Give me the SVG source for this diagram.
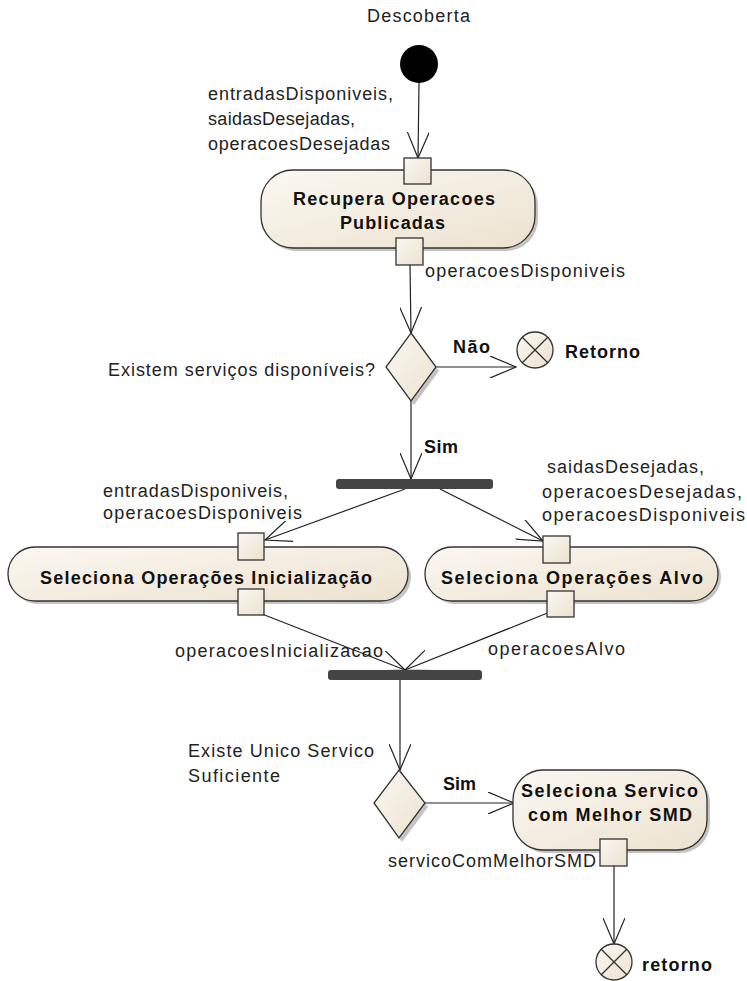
<svg xmlns="http://www.w3.org/2000/svg" width="747" height="981" viewBox="0 0 747 981">
<style>
.lbl{font-family:"Liberation Sans",Arial,sans-serif;font-size:18px;fill:#222}
.bold{font-family:"Liberation Sans",Arial,sans-serif;font-size:18px;font-weight:bold;fill:#111}
.node{fill:url(#g);stroke:#333;stroke-width:1.3}
.shadow{fill:#c4c4c4}
.pin{fill:url(#g);stroke:#333;stroke-width:1.3}
.edge{stroke:#222;stroke-width:1.2;fill:none;marker-end:url(#arr)}
.bar{fill:#444}
</style>
<defs>
<linearGradient id="g" x1="0" y1="0" x2="1" y2="1">
<stop offset="0" stop-color="#fbf8f2"/>
<stop offset="1" stop-color="#ece2cf"/>
</linearGradient>
<marker id="arr" markerUnits="userSpaceOnUse" viewBox="0 0 27 22" markerWidth="27" markerHeight="22" refX="26" refY="11" orient="auto">
<path d="M0,0 L26,11 L0,22" fill="none" stroke="#222" stroke-width="1.2"/>
</marker>
</defs>

<g id="connectors">
<line class="edge" x1="419" y1="83" x2="418" y2="158"/>
<line class="edge" x1="410" y1="265" x2="411" y2="333"/>
<line class="edge" x1="436" y1="367" x2="516" y2="367"/>
<line class="edge" x1="411" y1="401" x2="411" y2="479"/>
<line class="edge" x1="405" y1="489" x2="265" y2="540"/>
<line class="edge" x1="440" y1="489" x2="543" y2="541"/>
<line class="edge" x1="262" y1="614" x2="405" y2="670"/>
<line class="edge" x1="550" y1="612" x2="405" y2="670"/>
<line class="edge" x1="400" y1="680" x2="400" y2="770"/>
<line class="edge" x1="425" y1="803" x2="514" y2="803"/>
<line class="edge" x1="614" y1="866" x2="614" y2="944"/>
</g>

<g id="title">
<text class="lbl" x="367" y="22" textLength="103">Descoberta</text>
</g>

<g id="initial">
<circle cx="419" cy="64" r="19" fill="#000"/>
</g>

<g id="recupera">
<rect class="shadow" x="264" y="173" width="274" height="78" rx="32"/>
<rect class="node" x="261" y="170" width="274" height="78" rx="32"/>
<text class="bold" x="293" y="205" textLength="202">Recupera Operacoes</text>
<text class="bold" x="340" y="229" textLength="105">Publicadas</text>
<rect class="pin" x="404" y="158" width="27" height="26"/>
<rect class="pin" x="396" y="238" width="27" height="27"/>
<text class="lbl" x="208" y="100" textLength="185">entradasDisponiveis,</text>
<text class="lbl" x="208" y="125" textLength="147">saidasDesejadas,</text>
<text class="lbl" x="208" y="150" textLength="182">operacoesDesejadas</text>
<text class="lbl" x="425" y="277" textLength="200">operacoesDisponiveis</text>
</g>

<g id="decisao1">
<polygon class="shadow" points="414,337 439,371 414,405 389,371"/>
<polygon class="node" points="411,333 436,367 411,401 386,367"/>
<text class="lbl" x="108" y="376" textLength="267">Existem serviços disponíveis?</text>
<text class="bold" x="453" y="353" textLength="37">Não</text>
<text class="bold" x="424" y="453" textLength="34">Sim</text>
</g>

<g id="retorno1">
<circle class="node" cx="535" cy="350" r="18"/>
<line x1="522" y1="337" x2="548" y2="363" stroke="#333" stroke-width="1.2"/>
<line x1="548" y1="337" x2="522" y2="363" stroke="#333" stroke-width="1.2"/>
<text class="bold" x="565" y="358" textLength="75">Retorno</text>
</g>

<g id="fork">
<rect class="bar" x="336" y="479" width="157" height="10" rx="3"/>
</g>

<g id="inicializacao">
<rect class="shadow" x="11" y="550" width="400" height="54" rx="27"/>
<rect class="node" x="8" y="547" width="400" height="54" rx="27"/>
<text class="bold" x="40" y="584" textLength="332">Seleciona Operações Inicialização</text>
<rect class="pin" x="238" y="533" width="26" height="27"/>
<rect class="pin" x="238" y="589" width="26" height="26"/>
<text class="lbl" x="103" y="497" textLength="185">entradasDisponiveis,</text>
<text class="lbl" x="103" y="519" textLength="199">operacoesDisponiveis</text>
<text class="lbl" x="175" y="657" textLength="208">operacoesInicializacao</text>
</g>

<g id="alvo">
<rect class="shadow" x="428" y="550" width="293" height="54" rx="27"/>
<rect class="node" x="425" y="547" width="293" height="54" rx="27"/>
<text class="bold" x="441" y="584" textLength="262">Seleciona Operações Alvo</text>
<rect class="pin" x="543" y="536" width="27" height="27"/>
<rect class="pin" x="547" y="591" width="27" height="26"/>
<text class="lbl" x="547" y="473" textLength="157">saidasDesejadas,</text>
<text class="lbl" x="542" y="498" textLength="200">operacoesDesejadas,</text>
<text class="lbl" x="542" y="521" textLength="203">operacoesDisponiveis</text>
<text class="lbl" x="488" y="655" textLength="137">operacoesAlvo</text>
</g>

<g id="join">
<rect class="bar" x="328" y="670" width="154" height="10" rx="3"/>
</g>

<g id="decisao2">
<polygon class="shadow" points="402,774 428,807 402,842 377,807"/>
<polygon class="node" points="399,770 425,803 399,838 374,803"/>
<text class="lbl" x="188" y="757" textLength="186">Existe Unico Servico</text>
<text class="lbl" x="188" y="782" textLength="92">Suficiente</text>
<text class="bold" x="443" y="790" textLength="33">Sim</text>
</g>

<g id="melhorSMD">
<rect class="shadow" x="516" y="773" width="194" height="80" rx="30"/>
<rect class="node" x="513" y="770" width="194" height="80" rx="30"/>
<text class="bold" x="521" y="797" textLength="177">Seleciona Servico</text>
<text class="bold" x="528" y="821" textLength="164">com Melhor SMD</text>
<rect class="pin" x="600" y="839" width="27" height="27"/>
<text class="lbl" x="388" y="867" textLength="208">servicoComMelhorSMD</text>
</g>

<g id="retorno2">
<circle class="node" cx="614" cy="962" r="18"/>
<line x1="601" y1="949" x2="627" y2="975" stroke="#333" stroke-width="1.2"/>
<line x1="627" y1="949" x2="601" y2="975" stroke="#333" stroke-width="1.2"/>
<text class="bold" x="642" y="971" textLength="70">retorno</text>
</g>
</svg>
